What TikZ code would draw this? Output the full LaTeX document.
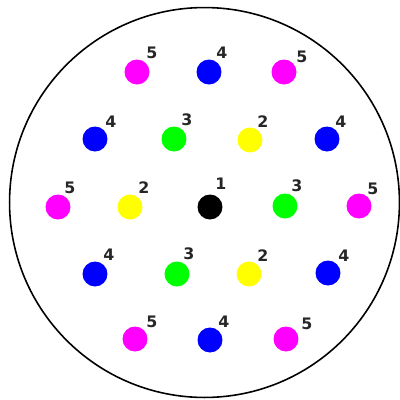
\documentclass[tikz,border=0pt]{standalone}
\usepackage{fontspec}
\newfontfamily\numfont{DejaVu Sans}
\usepackage{tikz}

\definecolor{pinkdot}{RGB}{255,0,255}
\definecolor{bluedot}{RGB}{0,0,255}
\definecolor{greendot}{RGB}{0,255,0}
\definecolor{yellowdot}{RGB}{255,255,0}

\tikzset{
  dot/.style={circle, fill=#1, inner sep=0pt, minimum size=0.5cm},
  num/.style={font=\numfont\bfseries\fontsize{9}{10}\selectfont, text=black!85, inner sep=0pt}
}

\begin{document}
\begin{tikzpicture}[x=0.02cm,y=-0.02cm]
 \useasboundingbox (0,0) rectangle (400,400);
 \draw[line width=0.9pt] (204.5,202.5) circle[radius=3.9cm];

 % top row
 \node[dot=pinkdot] (m1) at (137,72) {};
 \node[dot=bluedot] (b1) at (209,72) {};
 \node[dot=pinkdot] (m2) at (284,72) {};
 \node[num] (n1) at (152,53) {5};
 \node[num] (n2) at (222,53) {4};
 \node[num] (n3) at (302,57) {5};

 % second row
 \node[dot=bluedot] (b2) at (95,139) {};
 \node[dot=greendot] (g1) at (174,139) {};
 \node[dot=yellowdot] (y1) at (250,140) {};
 \node[dot=bluedot] (b3) at (327,139) {};
 \node[num] (n4) at (111,122) {4};
 \node[num] (n5) at (187,120) {3};
 \node[num] (n6) at (263,122) {2};
 \node[num] (n7) at (341,122) {4};

 % middle row
 \node[dot=pinkdot] (m3) at (58,207) {};
 \node[dot=yellowdot] (y2) at (130,207) {};
 \node[dot=black] (k1) at (210,207) {};
 \node[dot=greendot] (g2) at (285,206) {};
 \node[dot=pinkdot] (m4) at (359,206) {};
 \node[num] (n8) at (70,188) {5};
 \node[num] (n9) at (144,188) {2};
 \node[num] (n10) at (221,184) {1};
 \node[num] (n11) at (297,186) {3};
 \node[num] (n12) at (373,189) {5};

 % fourth row
 \node[dot=bluedot] (b4) at (95,274) {};
 \node[dot=greendot] (g3) at (177,274) {};
 \node[dot=yellowdot] (y3) at (249,274) {};
 \node[dot=bluedot] (b5) at (328,273) {};
 \node[num] (n13) at (109,255) {4};
 \node[num] (n14) at (189,254) {3};
 \node[num] (n15) at (263,256) {2};
 \node[num] (n16) at (344,256) {4};

 % bottom row
 \node[dot=pinkdot] (m5) at (135,339) {};
 \node[dot=bluedot] (b6) at (210,340) {};
 \node[dot=pinkdot] (m6) at (286,339) {};
 \node[num] (n17) at (152,322) {5};
 \node[num] (n18) at (224,322) {4};
 \node[num] (n19) at (307,324) {5};
\end{tikzpicture}
\end{document}
